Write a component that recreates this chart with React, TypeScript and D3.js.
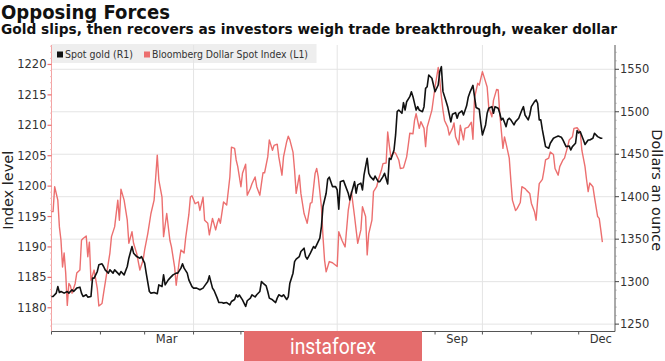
import * as d3 from 'd3';

// chart data: day offset from Jan 1 2019, value
const START = new Date(2019, 0, 1);
const END = new Date(2019, 11, 24);

const goldSeries: [number, number][] = [
  [0, 1282.5], [1, 1282.5], [3, 1286.5], [4, 1294.2], [5, 1287.2], [6, 1288.4], [8, 1286.5], [10, 1288.4], [11, 1286.5], [13, 1290.4],
  [14, 1288.4], [16, 1292.4], [18, 1293.5], [19, 1286.5], [20, 1282.5], [22, 1284.5], [23, 1281.8], [25, 1282.5], [26, 1304.1], [27, 1304.1],
  [29, 1311.9], [30, 1319.8], [32, 1321], [33, 1317.8], [34, 1313.9], [36, 1310], [37, 1313.9], [39, 1310], [40, 1313.9], [42, 1310],
  [43, 1308], [44, 1311.9], [46, 1308], [48, 1317.8], [49, 1327.6], [51, 1341.3], [52, 1333.5], [54, 1329.5], [56, 1327.6], [57, 1329.5],
  [59, 1321.8], [60, 1310], [62, 1288.4], [63, 1286.5], [65, 1287.2], [67, 1285.7], [68, 1296.2], [70, 1294.2], [71, 1308], [72, 1296.2],
  [74, 1302.1], [75, 1304.1], [77, 1308], [79, 1310], [80, 1310], [82, 1315.9], [83, 1321], [84, 1315.9], [86, 1310], [87, 1302.1],
  [89, 1294.2], [90, 1292.4], [92, 1292.4], [94, 1290.4], [96, 1292.4], [97, 1295], [99, 1300.1], [100, 1306.8], [102, 1292.4], [103, 1289.6],
  [105, 1280.6], [106, 1275.4], [108, 1275.4], [109, 1274.7], [111, 1275.4], [113, 1272.7], [114, 1276.6], [116, 1279], [117, 1284.5], [118, 1282],
  [119, 1284.3], [121, 1278.6], [123, 1270.7], [124, 1277.5], [126, 1280.6], [127, 1284.5], [129, 1282], [130, 1284.5], [132, 1288.4], [133, 1300.1],
  [134, 1298.2], [136, 1295], [137, 1288.4], [138, 1280.6], [140, 1278.6], [142, 1275.4], [143, 1280.6], [144, 1284.5], [146, 1282.6], [147, 1284.5],
  [149, 1279], [150, 1282], [151, 1298.2], [153, 1310], [154, 1323.6], [155, 1326.5], [157, 1329.5], [158, 1335.4], [160, 1339.4], [161, 1329.5],
  [162, 1326.5], [164, 1333.5], [166, 1341.3], [167, 1339.4], [168, 1343.3], [170, 1351.2], [171, 1364.8], [172, 1388.4], [174, 1404.1], [175, 1420.6],
  [176, 1423], [178, 1411.9], [179, 1411.9], [180, 1411.9], [181, 1408], [182, 1385.3], [183, 1417.7], [185, 1419], [186, 1413.9], [188, 1404.1],
  [189, 1396.2], [190, 1404.1], [192, 1417.7], [193, 1404.1], [194, 1413.9], [196, 1416], [197, 1408], [198, 1425.6], [200, 1445.3], [201, 1427.6],
  [202, 1423.6], [204, 1419.8], [205, 1424.3], [207, 1417.7], [208, 1417.7], [210, 1423.6], [211, 1427.6], [213, 1415], [214, 1445.3], [215, 1443.9],
  [217, 1455], [218, 1472.7], [219, 1500.1], [220, 1502], [222, 1498.2], [223, 1510.7], [224, 1502], [225, 1511.8], [227, 1517.8], [228, 1523.6],
  [229, 1517.8], [231, 1502], [232, 1506], [233, 1502], [235, 1500.1], [236, 1506], [237, 1527.6], [238, 1529.5], [239, 1543.3], [241, 1539.4],
  [242, 1531.5], [243, 1523.6], [245, 1531.5], [246, 1547.3], [247, 1553.1], [248, 1524], [250, 1512], [251, 1506], [252, 1497], [253, 1488],
  [254, 1497], [256, 1498.9], [257, 1492.4], [258, 1498.2], [260, 1501], [261, 1496.2], [263, 1507], [264, 1517], [265, 1522.5], [267, 1531],
  [268, 1517.8], [269, 1505], [271, 1503], [272, 1486.5], [273, 1472.7], [275, 1484.5], [276, 1498.2], [277, 1504.1], [279, 1506], [280, 1498.2],
  [281, 1506], [283, 1504.1], [284, 1498.2], [285, 1490.4], [286, 1492.4], [288, 1482.5], [289, 1490.4], [290, 1492.4], [291, 1490.4], [293, 1484.5],
  [294, 1488.4], [296, 1492.4], [298, 1502], [299, 1506], [300, 1496.2], [302, 1490.4], [303, 1496.2], [304, 1506], [306, 1511.9], [307, 1513.9],
  [308, 1510], [309, 1490.4], [310, 1490.4], [311, 1478.6], [312, 1468.8], [313, 1459], [315, 1457], [316, 1462.9], [318, 1468.8], [320, 1470.7],
  [321, 1471.5], [323, 1470], [324, 1466.8], [326, 1459], [328, 1459.6], [329, 1455], [330, 1459], [332, 1462.9], [333, 1477.8], [334, 1475],
  [335, 1476.5], [337, 1466.8], [338, 1461.5], [340, 1466.8], [341, 1466.8], [343, 1468.8], [344, 1474.7], [346, 1470.7], [348, 1468.8], [349, 1468.8],
];

const dollarSeries: [number, number][] = [
  [0, 1195.8], [1, 1195.8], [2, 1199.9], [4, 1197.7], [5, 1193.3], [6, 1191.1], [7, 1186.7], [8, 1189], [9, 1185.7], [10, 1180.4],
  [11, 1184], [12, 1183.6], [13, 1182.4], [15, 1184], [16, 1185.7], [18, 1186.2], [19, 1191.1], [20, 1191.4], [22, 1191.8], [23, 1188.4],
  [24, 1190.8], [25, 1184.5], [27, 1186.2], [29, 1183.2], [30, 1180.3], [32, 1180.7], [33, 1182.4], [35, 1185.7], [37, 1189], [38, 1191.7],
  [40, 1193.3], [42, 1197.7], [43, 1194.4], [44, 1199.5], [46, 1197.7], [48, 1194.4], [49, 1190.6], [51, 1192.5], [52, 1190.6], [54, 1188.9],
  [56, 1186.2], [58, 1187.8], [59, 1189.5], [61, 1192.2], [63, 1195.5], [65, 1197.7], [67, 1205.1], [68, 1201], [70, 1198.2], [71, 1191.7],
  [73, 1195.5], [75, 1191.1], [76, 1190], [78, 1186.7], [79, 1183.7], [81, 1187.8], [82, 1189.5], [84, 1189], [85, 1191.5], [87, 1195.3],
  [88, 1198.2], [89, 1198.4], [91, 1197.1], [93, 1197.4], [94, 1196], [96, 1198.2], [97, 1194.4], [99, 1193.9], [100, 1192], [102, 1194.7],
  [104, 1192.8], [105, 1193.9], [106, 1194.7], [107, 1193.9], [109, 1197.4], [111, 1196.9], [113, 1201.5], [114, 1206.4], [116, 1206.2], [117, 1204.3],
  [118, 1203.2], [120, 1199.9], [121, 1202.1], [123, 1203.6], [124, 1198.5], [126, 1199.6], [127, 1200.4], [129, 1201.5], [130, 1199.9], [132, 1198.5],
  [133, 1200.4], [134, 1202.2], [135, 1202.2], [137, 1204.8], [138, 1207.6], [140, 1205.9], [141, 1206.7], [143, 1206.9], [144, 1204.8], [146, 1201.8],
  [147, 1204.8], [149, 1207.3], [150, 1208.2], [151, 1207.6], [153, 1205.6], [154, 1202.6], [155, 1198.8], [157, 1201.8], [158, 1198.8], [160, 1195.5],
  [161, 1194.7], [162, 1193.9], [164, 1197.2], [165, 1197.3], [167, 1202.1], [168, 1202.9], [169, 1201.5], [171, 1196.6], [172, 1191.7], [173, 1187.8],
  [174, 1185.9], [176, 1187.6], [178, 1187.4], [179, 1187.2], [180, 1187], [181, 1186.8], [182, 1192.5], [184, 1191.1], [186, 1190], [188, 1196],
  [190, 1199.1], [192, 1195], [194, 1190.6], [196, 1192.8], [197, 1196.6], [199, 1195], [200, 1188.7], [201, 1192.2], [203, 1194.4], [204, 1199.1],
  [206, 1199.9], [207, 1201], [209, 1202.6], [210, 1203.7], [212, 1203.8], [213, 1208.9], [214, 1206.7], [215, 1204.8], [217, 1205.6], [218, 1205.4],
  [220, 1204.3], [221, 1202.9], [223, 1203], [225, 1204.8], [226, 1206.7], [227, 1208.7], [229, 1208.6], [230, 1210.8], [231, 1211.9], [233, 1209.5],
  [234, 1210.6], [236, 1209.5], [237, 1206.5], [238, 1209.7], [239, 1210.6], [241, 1212.5], [242, 1214.4], [243, 1216.3], [245, 1219.5], [246, 1217.4],
  [247, 1214.7], [248, 1212.5], [249, 1210.8], [251, 1209.7], [252, 1208.4], [254, 1209.5], [255, 1210.4], [256, 1208.1], [258, 1206.8], [259, 1210],
  [261, 1207.6], [262, 1209.5], [264, 1209.7], [266, 1210.5], [267, 1207.7], [268, 1214.5], [270, 1216.9], [271, 1216.6], [273, 1218.8], [274, 1218],
  [276, 1216.3], [277, 1213], [279, 1211.4], [280, 1214.1], [282, 1215.9], [283, 1215.8], [284, 1211.9], [286, 1206.2], [287, 1208.1], [288, 1207],
  [290, 1204.6], [291, 1201], [292, 1197.7], [294, 1196], [295, 1196.3], [297, 1197.3], [298, 1199.9], [300, 1199.6], [301, 1199.3], [303, 1198.8],
  [304, 1197.2], [306, 1195.8], [307, 1194.4], [308, 1197.7], [309, 1200.4], [311, 1201.1], [312, 1202.6], [313, 1204.3], [315, 1204.6], [316, 1205.6],
  [318, 1205.2], [319, 1202.9], [321, 1201.8], [322, 1203.2], [324, 1204.3], [325, 1204.6], [327, 1206.5], [328, 1207.6], [330, 1208.1], [331, 1209.5],
  [333, 1209.6], [335, 1208.9], [336, 1205.9], [338, 1203.2], [339, 1201], [340, 1199.1], [341, 1200.5], [343, 1199.9], [344, 1198.2], [346, 1195],
  [347, 1194.7], [348, 1192.8], [349, 1190.8],
];

const leftTicks = [1180, 1185, 1190, 1195, 1200, 1205, 1210, 1215, 1220];
const rightTicks = [1250, 1300, 1350, 1400, 1450, 1500, 1550];
// Jun sits under the watermark in the source, so only these show
const monthLabels = ['Mar', 'Sep', 'Dec'];
const labelMonths = [2, 8, 11];
const gridMonths = [3, 6, 9];

const W = 665;
const H = 361;
const left = 51.5;
const right = 615;
const top = 45;
const bottom = 331.5;
const FONT = 'DejaVu Sans, sans-serif';
const RED = '#ec6f6f';

const x = d3.scaleTime().domain([START, END]).range([left, right]);
const yL = d3.scaleLinear().domain([1176.1, 1223.2]).range([bottom, top]);
const yR = d3.scaleLinear().domain([1241.3, 1578.6]).range([bottom, top]);

const day = (d: number) => d3.timeDay.offset(START, d);

const goldLine = d3.line<[number, number]>()
  .x(d => x(day(d[0])))
  .y(d => yR(d[1]));
const dollarLine = d3.line<[number, number]>()
  .x(d => x(day(d[0])))
  .y(d => yL(d[1]));

export default function App() {
  const months = d3.timeMonth.range(START, END);
  const leftMinor = d3.range(1177, 1224).filter(v => v % 5 !== 0);
  const rightMinor = d3.range(1250, 1580, 10).filter(v => v % 50 !== 0);

  return (
    <div style={{ position: 'absolute', left: 0, top: 0 }}>
      <svg width={W} height={H} style={{ display: 'block', background: '#fff' }}>
        <text x={1} y={19} fontFamily={FONT} fontWeight="bold" fontSize={19} fill="#111"
          textLength={169} lengthAdjust="spacingAndGlyphs">Opposing Forces</text>
        <text x={1} y={34} fontFamily={FONT} fontWeight="bold" fontSize={13.5} fill="#111"
          textLength={616} lengthAdjust="spacingAndGlyphs">
          Gold slips, then recovers as investors weigh trade breakthrough, weaker dollar
        </text>

        {/* legend box under the grid */}
        <rect x={left} y={44} width={265} height={19} fill="#eeeeee" />

        {/* grid */}
        {rightTicks.map(t => (
          <line key={'h' + t} x1={left} x2={right} y1={yR(t)} y2={yR(t)} stroke="#e4e4e4" strokeWidth={1} />
        ))}
        {gridMonths.map(m => {
          const gx = x(new Date(2019, m, 1));
          return <line key={'v' + m} x1={gx} x2={gx} y1={top} y2={bottom} stroke="#e4e4e4" strokeWidth={1} />;
        })}

        {/* legend */}
        <rect x={57} y={51.5} width={6} height={6} fill="#111" />
        <text x={65} y={58} fontFamily={FONT} fontSize={10} fill="#333"
          textLength={68} lengthAdjust="spacingAndGlyphs">Spot gold (R1)</text>
        <rect x={144} y={51.5} width={6} height={6} fill={RED} />
        <text x={152} y={58} fontFamily={FONT} fontSize={10} fill="#333"
          textLength={156} lengthAdjust="spacingAndGlyphs">Bloomberg Dollar Spot Index (L1)</text>

        {/* left axis */}
        <line x1={left} x2={left} y1={top} y2={bottom} stroke="#f3a4a4" strokeWidth={1} />
        {leftMinor.map(v => (
          <line key={'lm' + v} x1={left - 1.5} x2={left} y1={yL(v)} y2={yL(v)} stroke="#f6bcbc" strokeWidth={1} />
        ))}
        {leftTicks.map(t => (
          <g key={'l' + t}>
            <line x1={left - 4} x2={left} y1={yL(t)} y2={yL(t)} stroke={RED} strokeWidth={1.2} />
            <text x={left - 5} y={yL(t)} dy="0.35em" textAnchor="end" fontFamily={FONT} fontSize={11.5} fill="#333">{t}</text>
          </g>
        ))}
        <text transform={`translate(13,${(top + bottom) / 2 + 2}) rotate(-90)`} textAnchor="middle"
          fontFamily={FONT} fontSize={14.5} fill="#222">Index level</text>

        {/* right axis */}
        <line x1={right} x2={right} y1={top} y2={bottom} stroke="#555" strokeWidth={1} />
        {rightMinor.map(v => (
          <line key={'rm' + v} x1={right} x2={right + 1.5} y1={yR(v)} y2={yR(v)} stroke="#999" strokeWidth={1} />
        ))}
        {rightTicks.map(t => (
          <g key={'r' + t}>
            <line x1={right} x2={right + 4} y1={yR(t)} y2={yR(t)} stroke="#444" strokeWidth={1} />
            <text x={right + 5} y={yR(t)} dy="0.35em" fontFamily={FONT} fontSize={11.5} fill="#333">{t}</text>
          </g>
        ))}
        <text transform={`translate(652,${(top + bottom) / 2 + 2}) rotate(90)`} textAnchor="middle"
          fontFamily={FONT} fontSize={14.5} fill="#222">Dollars an ounce</text>

        {/* x axis */}
        <line x1={left} x2={right} y1={bottom} y2={bottom} stroke="#555" strokeWidth={1} />
        {months.map(m => (
          <line key={'t' + m.getMonth()} x1={x(m)} x2={x(m)} y1={bottom} y2={bottom + 3} stroke="#555" strokeWidth={1} />
        ))}
        {monthLabels.map((lab, i) => (
          <text key={lab} x={x(new Date(2019, labelMonths[i], 15))} y={343} textAnchor="middle"
            fontFamily={FONT} fontSize={11.5} fill="#333">{lab}</text>
        ))}

        {/* series */}
        <path d={dollarLine(dollarSeries) ?? ''} fill="none" stroke={RED} strokeWidth={1.4} strokeLinejoin="round" />
        <path d={goldLine(goldSeries) ?? ''} fill="none" stroke="#111" strokeWidth={1.6} strokeLinejoin="round" />

        {/* watermark */}
        <rect x={244} y={331} width={178} height={30} fill="#e46c6c" />
        <text x={333} y={354} textAnchor="middle" fontFamily="Roboto, sans-serif" fontSize={22} fill="#fff"
          textLength={86} lengthAdjust="spacingAndGlyphs">instaforex</text>
      </svg>
    </div>
  );
}
